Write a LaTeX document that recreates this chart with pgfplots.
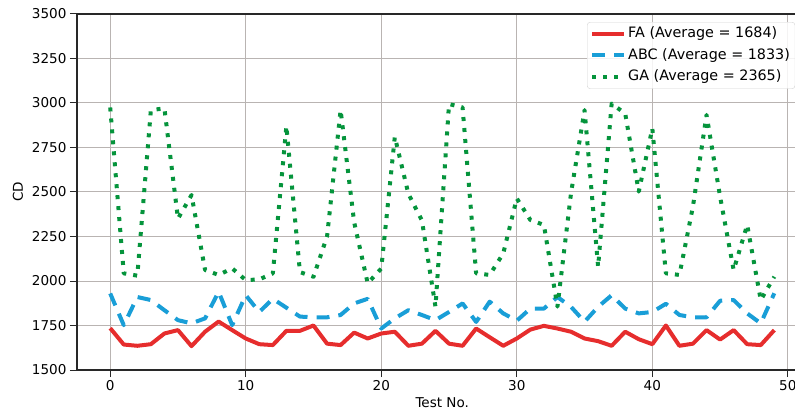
\documentclass[border=0pt]{standalone}
\usepackage{fontspec}
\setmainfont{DejaVu Sans}
\usepackage{pgfplots}
\pgfplotsset{compat=1.18}
\definecolor{faRed}{RGB}{230,45,45}
\definecolor{abcBlue}{RGB}{25,158,215}
\definecolor{gaGreen}{RGB}{5,148,60}
\definecolor{gridgray}{RGB}{185,180,178}
\definecolor{spine}{RGB}{40,40,40}
\begin{document}
\begin{tikzpicture}[font=\fontsize{13.6}{16.3}\selectfont]
\useasboundingbox (-77bp,-44bp) rectangle (718bp,370bp);
\begin{axis}[
  at={(0,0)}, anchor=south west,
  scale only axis, width=730.5bp, height=356bp,
  xmin=-2.45, xmax=51.45, ymin=1500, ymax=3500,
  xtick={0,10,...,50}, ytick={1500,1750,...,3500},
  /pgf/number format/assume math mode=true,
  yticklabel style={/pgf/number format/1000 sep={}},
  scaled y ticks=false,
  xtick pos=bottom, ytick pos=left, tick align=outside, major tick length=7bp,
  every tick/.style={spine, line width=1bp},
  axis line style={spine, line width=1.2bp},
  grid=major, major grid style={gridgray, line width=1bp},
  xlabel={Test No.}, ylabel={CD},
  xlabel style={at={(axis description cs:0.5,-0.0927)}, anchor=center},
  ylabel style={at={(axis description cs:-0.0808,0.5)}, anchor=center},
  legend cell align=left,
  legend image code/.code={\draw[#1] (0bp,0bp) -- (32bp,0bp);},
  legend style={at={(axis description cs:0.6982,0.9775)}, anchor=north west,
    font=\fontsize{14.4}{17}\selectfont,
    draw=gray!35, rounded corners=3bp, fill=white, fill opacity=0.85, text opacity=1,
    row sep=4bp, inner xsep=3bp, inner ysep=3bp,
    nodes={inner sep=2bp, text height=10.5bp, text depth=3bp},
    /tikz/every even column/.append style={column sep=5bp}},
]
\addplot[faRed, line width=4bp, line join=round] coordinates {
(0,1735)(1,1643)(2,1636)(3,1645)(4,1705)(5,1724)(6,1634)(7,1715)(8,1772)(9,1724)
(10,1677)(11,1645)(12,1640)(13,1720)(14,1720)(15,1750)(16,1648)(17,1640)(18,1710)(19,1677)
(20,1705)(21,1715)(22,1636)(23,1648)(24,1720)(25,1648)(26,1636)(27,1733)(28,1684)(29,1636)
(30,1677)(31,1727)(32,1748)(33,1733)(34,1715)(35,1677)(36,1662)(37,1636)(38,1715)(39,1673)
(40,1645)(41,1750)(42,1636)(43,1648)(44,1724)(45,1671)(46,1724)(47,1645)(48,1640)(49,1724)};
\addlegendentry{FA (Average = 1684)}
\addplot[abcBlue, line width=4bp, line join=round, dash pattern=on 13bp off 9bp] coordinates {
(0,1930)(1,1752)(2,1910)(3,1893)(4,1836)(5,1780)(6,1762)(7,1790)(8,1940)(9,1752)
(10,1920)(11,1826)(12,1900)(13,1850)(14,1800)(15,1796)(16,1796)(17,1809)(18,1874)(19,1900)
(20,1733)(21,1790)(22,1836)(23,1809)(24,1780)(25,1826)(26,1874)(27,1770)(28,1884)(29,1818)
(30,1777)(31,1845)(32,1845)(33,1910)(34,1855)(35,1771)(36,1855)(37,1920)(38,1845)(39,1818)
(40,1826)(41,1872)(42,1809)(43,1796)(44,1796)(45,1889)(46,1893)(47,1818)(48,1762)(49,1931)};
\addlegendentry{ABC (Average = 1833)}
\addplot[gaGreen, line width=4bp, line join=round, dash pattern=on 4bp off 7bp] coordinates {
(0,2975)(1,2043)(2,2030)(3,2960)(4,2970)(5,2350)(6,2483)(7,2062)(8,2034)(9,2071)
(10,2005)(11,2009)(12,2043)(13,2870)(14,2050)(15,2024)(16,2250)(17,2960)(18,2330)(19,1987)
(20,2070)(21,2810)(22,2490)(23,2340)(24,1856)(25,2994)(26,2975)(27,2043)(28,2034)(29,2155)
(30,2464)(31,2343)(32,2315)(33,1856)(34,2493)(35,2960)(36,2080)(37,2997)(38,2940)(39,2502)
(40,2857)(41,2043)(42,2034)(43,2420)(44,2933)(45,2474)(46,2062)(47,2315)(48,1893)(49,2024)};
\addlegendentry{GA (Average = 2365)}
\end{axis}
\end{tikzpicture}
\end{document}
